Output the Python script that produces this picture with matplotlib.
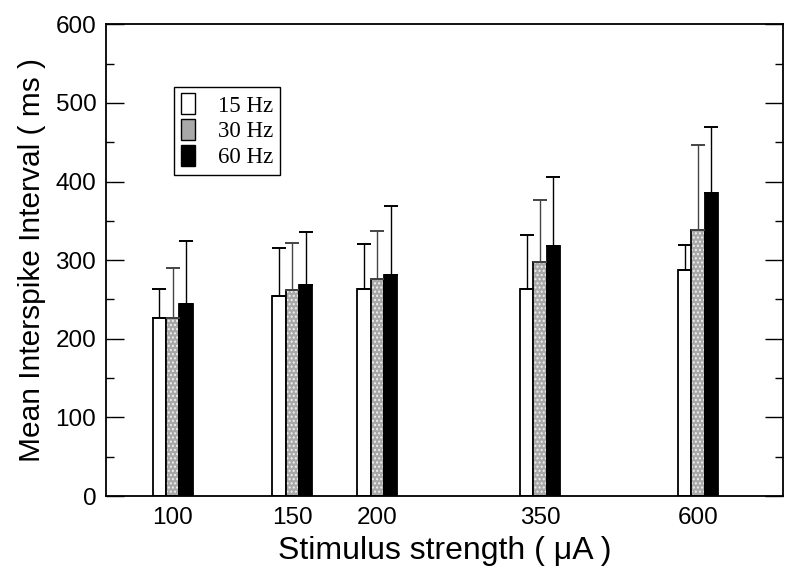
import numpy as np
import matplotlib.pyplot as plt
from matplotlib.patches import Patch

# stimulus strength groups (uA), placed at uneven positions like the original
strength = ["100", "150", "200", "350", "600"]
xpos = [0.667, 1.863, 2.713, 4.34, 5.92]

freqs = ["15 Hz", "30 Hz", "60 Hz"]
isi_15 = [226, 254, 263, 263, 288]
isi_30 = [226, 262, 276, 298, 338]
isi_60 = [244, 269, 281, 318, 386]
err_15 = [37, 61, 58, 69, 31]
err_30 = [64, 60, 61, 79, 109]
err_60 = [80, 67, 88, 88, 84]

plt.rcParams["font.family"] = ["Liberation Sans", "DejaVu Sans"]

fig = plt.figure(figsize=(8, 5.8), dpi=100)
ax = fig.add_axes([0.1325, 0.1448, 0.8463, 0.8133])

w = 0.133
x = np.array(xpos)

# 15 Hz: open bars
ax.bar(x - w, isi_15, w, color="white", edgecolor="black", linewidth=1.3)
ax.errorbar(x - w, isi_15, yerr=[np.zeros(5), err_15], fmt="none",
            ecolor="black", elinewidth=1, capsize=5, capthick=1.4)

# 30 Hz: speckled grey bars (fill + hatch, outline on top)
ax.bar(x, isi_30, w, color="#a8a8a8", edgecolor="#f0f0f0", linewidth=0,
       hatch="....")
ax.bar(x, isi_30, w, color="none", edgecolor="black", linewidth=1.3)
ax.errorbar(x, isi_30, yerr=[np.zeros(5), err_30], fmt="none",
            ecolor="#444444", elinewidth=1, capsize=5, capthick=1.4,
            linestyle=":")

# 60 Hz: solid black bars
ax.bar(x + w, isi_60, w, color="black", edgecolor="black", linewidth=1.3)
ax.errorbar(x + w, isi_60, yerr=[np.zeros(5), err_60], fmt="none",
            ecolor="black", elinewidth=1, capsize=5, capthick=1.4)

ax.set_xlim(0, 6.77)
ax.set_ylim(0, 600)
ax.set_xticks(x)
ax.set_xticklabels(strength, fontsize=17.5)
ax.tick_params(axis="x", length=0, pad=8)
ax.set_yticks(np.arange(0, 601, 100))
ax.set_yticks(np.arange(0, 601, 50), minor=True)
ax.tick_params(axis="y", which="major", direction="in", length=13,
               right=True, labelsize=17.5, width=1, pad=7)
ax.tick_params(axis="y", which="minor", direction="in", length=6,
               right=True, width=1)
for s in ax.spines.values():
    s.set_linewidth(1.3)

ax.set_xlabel("Stimulus strength ( \u03bcA )", fontsize=23, labelpad=5)
ax.set_ylabel("Mean Interspike Interval ( ms )", fontsize=21.5, labelpad=7)

handles = [
    Patch(facecolor="white", edgecolor="black", linewidth=1),
    Patch(facecolor="#a8a8a8", edgecolor="black", linewidth=1),
    Patch(facecolor="black", edgecolor="black", linewidth=1),
]
leg = ax.legend(handles, freqs, loc="upper left",
                bbox_to_anchor=(0.101, 0.868), fancybox=False,
                edgecolor="black", framealpha=1, handlelength=0.6,
                handleheight=1.0, handletextpad=1.0, labelspacing=0.12,
                borderpad=0.3, borderaxespad=0,
                prop={"family": ["Liberation Serif", "DejaVu Serif"],
                      "size": 16.5})
leg.get_frame().set_linewidth(1)

fig.savefig("out.png", dpi=100)
